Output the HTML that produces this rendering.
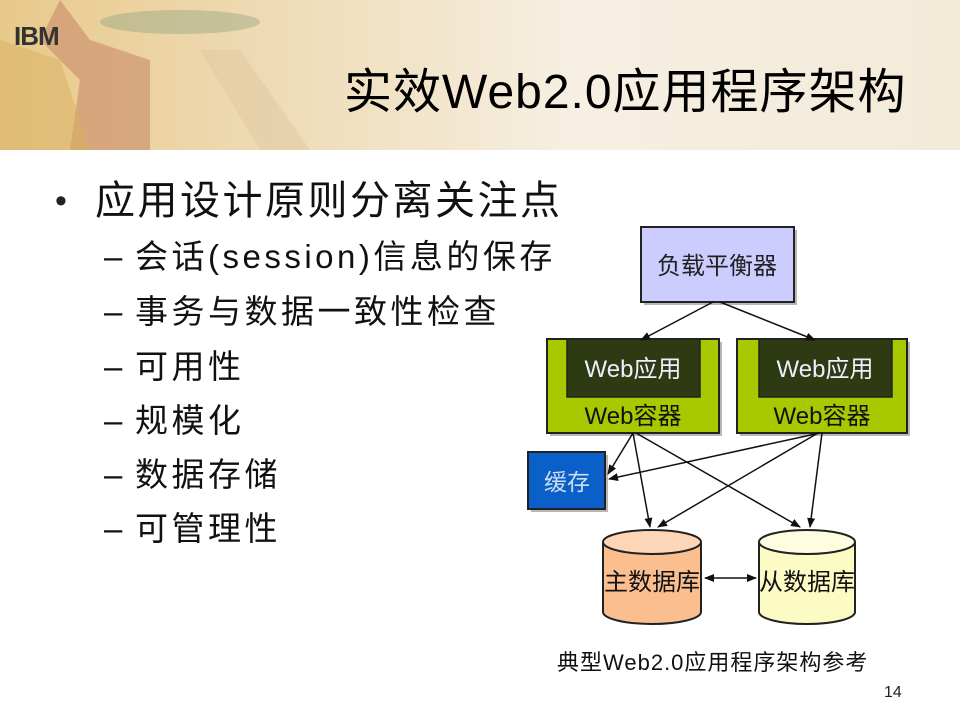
<!DOCTYPE html>
<html><head><meta charset="utf-8"><style>
body{margin:0;width:960px;height:720px;overflow:hidden;background:#fff}
svg text{font-family:"Liberation Sans","Noto Sans CJK SC",sans-serif}
</style></head><body>
<svg width="960" height="720" xmlns="http://www.w3.org/2000/svg">
<defs>
<linearGradient id="bg" x1="0" y1="0" x2="1" y2="0">
<stop offset="0" stop-color="#e8c98a"/><stop offset="0.3" stop-color="#efdcb8"/><stop offset="0.6" stop-color="#f6efe2"/><stop offset="1" stop-color="#f3ead8"/></linearGradient>
<marker id="ar" markerWidth="10" markerHeight="8" refX="9" refY="4" orient="auto" markerUnits="userSpaceOnUse"><path d="M0,0 L10,4 L0,8 Z" fill="#111"/></marker>
<marker id="as" markerWidth="10" markerHeight="8" refX="1" refY="4" orient="auto" markerUnits="userSpaceOnUse"><path d="M10,0 L0,4 L10,8 Z" fill="#111"/></marker>
</defs>
<rect x="0" y="0" width="960" height="150" fill="url(#bg)"/>
<path d="M60,0 L90,40 L150,60 L150,150 L70,150 L80,80 L40,40 Z" fill="#c98a6a" opacity="0.6"/>
<path d="M0,40 L60,60 L90,150 L0,150 Z" fill="#d8b060" opacity="0.5"/>
<path d="M200,50 L260,150 L310,150 L240,50 Z" fill="#e0c8a0" opacity="0.5"/>
<ellipse cx="180" cy="22" rx="80" ry="12" fill="#8aa080" opacity="0.4"/>
<text x="14" y="45" font-size="26" font-weight="bold" fill="#333" letter-spacing="-1">IBM</text>
<text x="344" y="108" font-size="48" letter-spacing="1" fill="#000">实效Web2.0应用程序架构</text>
<text x="55" y="212" font-size="34" fill="#222">•</text>
<text x="95" y="214" font-size="40" letter-spacing="2.5" fill="#111">应用设计原则分离关注点</text>
<g font-size="33" fill="#111" letter-spacing="3.5">
<text x="104" y="268">–</text><text x="135" y="268">会话(session)信息的保存</text>
<text x="104" y="323">–</text><text x="135" y="323">事务与数据一致性检查</text>
<text x="104" y="378">–</text><text x="135" y="378">可用性</text>
<text x="104" y="432">–</text><text x="135" y="432">规模化</text>
<text x="104" y="486">–</text><text x="135" y="486">数据存储</text>
<text x="104" y="540">–</text><text x="135" y="540">可管理性</text>
</g>
<g fill="#888" opacity="0.6">
<rect x="644" y="230" width="153" height="75"/>
<rect x="550" y="342" width="172" height="94"/>
<rect x="740" y="342" width="170" height="94"/>
<rect x="531" y="455" width="77" height="57"/>
</g>
<rect x="641" y="227" width="153" height="75" fill="#ccccff" stroke="#222" stroke-width="2"/>
<text x="717" y="274" font-size="24" text-anchor="middle" fill="#222">负载平衡器</text>
<rect x="547" y="339" width="172" height="94" fill="#a8c800" stroke="#222" stroke-width="2"/>
<rect x="567" y="339" width="133" height="58" fill="#2d3a12" stroke="#222" stroke-width="1.5"/>
<text x="633" y="377" font-size="24" text-anchor="middle" fill="#eef">Web应用</text>
<text x="633" y="424" font-size="24" text-anchor="middle" fill="#111">Web容器</text>
<rect x="737" y="339" width="170" height="94" fill="#a8c800" stroke="#222" stroke-width="2"/>
<rect x="759" y="339" width="133" height="58" fill="#2d3a12" stroke="#222" stroke-width="1.5"/>
<text x="825" y="377" font-size="24" text-anchor="middle" fill="#eef">Web应用</text>
<text x="822" y="424" font-size="24" text-anchor="middle" fill="#111">Web容器</text>
<rect x="528" y="452" width="77" height="57" fill="#0a5fc8" stroke="#222" stroke-width="2"/>
<text x="567" y="490" font-size="23" text-anchor="middle" fill="#cde">缓存</text>
<path d="M603,542 L603,612 A49,12 0 0 0 701,612 L701,542" fill="#fbbe8e" stroke="#222" stroke-width="2"/>
<ellipse cx="652" cy="542" rx="49" ry="12" fill="#fdd6b8" stroke="#222" stroke-width="2"/>
<text x="652" y="590" font-size="24" text-anchor="middle" fill="#111">主数据库</text>
<path d="M759,542 L759,612 A48,12 0 0 0 855,612 L855,542" fill="#fdfbc4" stroke="#222" stroke-width="2"/>
<ellipse cx="807" cy="542" rx="48" ry="12" fill="#fefde0" stroke="#222" stroke-width="2"/>
<text x="807" y="590" font-size="24" text-anchor="middle" fill="#111">从数据库</text>
<g stroke="#111" stroke-width="1.5" fill="none" marker-end="url(#ar)">
<line x1="713" y1="302" x2="641" y2="340"/>
<line x1="720" y1="302" x2="815" y2="340"/>
<line x1="633" y1="433" x2="608" y2="474"/>
<line x1="633" y1="433" x2="650" y2="527"/>
<line x1="636" y1="433" x2="800" y2="527"/>
<line x1="820" y1="433" x2="609" y2="479"/>
<line x1="818" y1="433" x2="658" y2="527"/>
<line x1="822" y1="433" x2="810" y2="527"/>
<line x1="705" y1="578" x2="756" y2="578" marker-start="url(#as)"/>
</g>
<text x="557" y="670" font-size="22" letter-spacing="1" fill="#111">典型Web2.0应用程序架构参考</text>
<text x="884" y="697" font-size="16" fill="#222">14</text>
</svg>
</body></html>
